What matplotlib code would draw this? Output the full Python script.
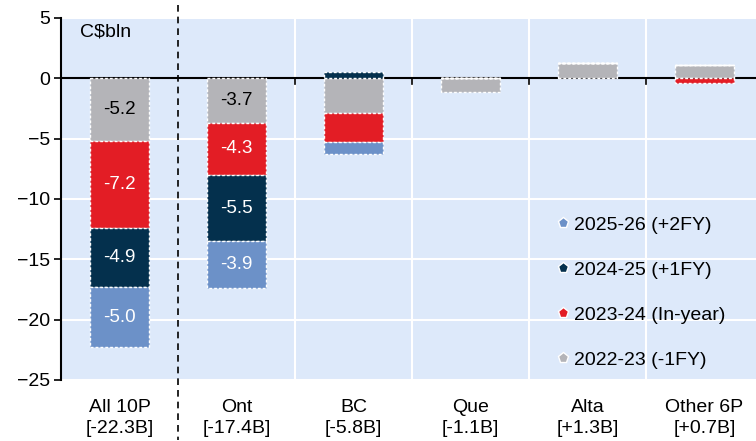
import numpy as np
import matplotlib
matplotlib.use("Agg")
import matplotlib.pyplot as plt
from matplotlib.lines import Line2D

plt.rcParams['font.family'] = ['Liberation Sans', 'DejaVu Sans']

regions = ["All 10P\n[-22.3B]", "Ont\n[-17.4B]", "BC\n[-5.8B]",
           "Que\n[-1.1B]", "Alta\n[+1.3B]", "Other 6P\n[+0.7B]"]

# fiscal-year changes in C$ billions, one list per year
fy2223 = [-5.2, -3.7, -2.9, -1.1, 1.25, 1.1]
fy2324 = [-7.2, -4.3, -2.4, 0.0, 0.05, -0.4]
fy2425 = [-4.9, -5.5, 0.5, 0.0, 0.0, 0.0]
fy2526 = [-5.0, -3.9, -1.0, 0.0, 0.0, 0.0]

series = [
    ("2022-23 (-1FY)", fy2223, "#b4b4b8", "black"),
    ("2023-24 (In-year)", fy2324, "#e31d25", "white"),
    ("2024-25 (+1FY)", fy2425, "#04304d", "white"),
    ("2025-26 (+2FY)", fy2526, "#6c91c8", "white"),
]
labelled = [0, 1]  # only the first two columns carry value labels

fig = plt.figure(figsize=(7.56, 4.41), dpi=100)
ax = fig.add_axes([61/756, 1-380/441, 1-61/756, 362/441])
ax.set_facecolor("#dde9fa")

x = np.arange(len(regions))
pos = np.zeros(len(regions))
neg = np.zeros(len(regions))
for name, vals, col, tcol in series:
    vals = np.array(vals)
    bottoms = np.where(vals >= 0, pos, neg)
    ax.bar(x, vals, width=0.5, bottom=bottoms, color=col,
           edgecolor="white", linewidth=1.0, linestyle=(0, (2, 1.5)),
           zorder=3)
    for i in labelled:
        ax.text(x[i], bottoms[i] + vals[i]/2, "%.1f" % vals[i],
                ha="center", va="center", color=tcol, fontsize=13.5, zorder=4)
    pos = pos + np.where(vals >= 0, vals, 0)
    neg = neg + np.where(vals < 0, vals, 0)

ax.set_xlim(-0.5, 5.44)
ax.set_ylim(-25, 5)
ax.set_yticks(np.arange(-25, 6, 5))
ax.tick_params(axis="y", labelsize=14, length=5, width=1.2, direction="out",
               pad=3)
ax.grid(axis="y", color="white", linewidth=1.5, zorder=0)

# category boundaries
for b in np.arange(1.5, 6, 1):
    ax.axvline(b, color="white", linewidth=1.5, zorder=1)
    ax.plot([b, b], [0, -0.45], color="black", linewidth=1.2, zorder=2)
ax.axhline(0, color="black", linewidth=1.5, zorder=2)

ax.set_xticks(x)
ax.set_xticklabels(regions, fontsize=14, linespacing=1.3)
ax.tick_params(axis="x", length=0, pad=14)

for s in ["top", "right", "bottom"]:
    ax.spines[s].set_visible(False)
ax.spines["left"].set_linewidth(1.5)

# dashed separator between the total and the provinces
ax.plot([0.5, 0.5], [6.1, -30], color="black", linewidth=1.2,
        linestyle=(0, (4, 3)), clip_on=False, zorder=5)

ax.text(-0.34, 3.8, "C$bln", fontsize=14, va="center", ha="left")

handles = [Line2D([], [], marker="p", linestyle="none", markersize=8,
                  markerfacecolor=col, markeredgecolor="white")
           for name, vals, col, tcol in series[::-1]]
names = [name for name, vals, col, tcol in series[::-1]]
ax.legend(handles, names, loc="upper left", bbox_to_anchor=(0.70, 0.48),
          frameon=False, fontsize=14, labelspacing=1.42, handlelength=0.6,
          handletextpad=0.25, borderpad=0)

fig.savefig("out.png", dpi=100)
